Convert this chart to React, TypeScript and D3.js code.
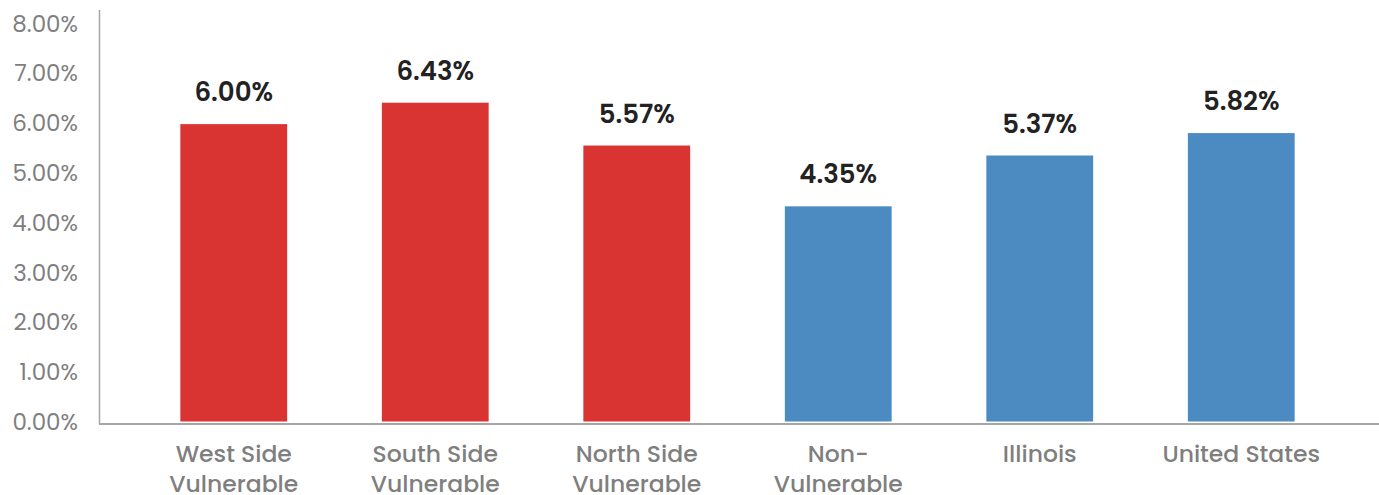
import React from "react";
import * as d3 from "d3";

const categories: string[][] = [
  ["West Side", "Vulnerable"],
  ["South Side", "Vulnerable"],
  ["North Side", "Vulnerable"],
  ["Non-", "Vulnerable"],
  ["Illinois"],
  ["United States"],
];
const values: number[] = [6.0, 6.43, 5.57, 4.35, 5.37, 5.82];
const barColors: string[] = ["#D93431", "#D93431", "#D93431", "#4B8BC2", "#4B8BC2", "#4B8BC2"];
const yTicks: number[] = [0, 1, 2, 3, 4, 5, 6, 7, 8];

const W = 1379;
const H = 495;
const font = "Poppins, 'Open Sans', 'Noto Sans', sans-serif";

export default function App() {
  const x = d3
    .scaleBand<number>()
    .domain(d3.range(values.length))
    .range([133, 1342])
    .paddingInner(0.47)
    .paddingOuter(0.235);
  const y = d3.scaleLinear().domain([0, 8]).range([423, 24.5]);
  const fmt = (v: number) => v.toFixed(2) + "%";

  return (
    <svg width={W} height={H} style={{ position: "absolute", left: 0, top: 0, background: "#fff" }}>
      {yTicks.map((t) => (
        <text
          key={t}
          x={78}
          y={y(t) - 1}
          dy="0.35em"
          textAnchor="end"
          fill="#7f7f7f"
          fontSize={23}
          fontFamily={font}
        >
          {fmt(t)}
        </text>
      ))}
      {values.map((v, i) => (
        <g key={i}>
          <rect
            x={x(i)!}
            y={y(v)}
            width={x.bandwidth()}
            height={y(0) - 1.5 - y(v)}
            fill={barColors[i]}
          />
          <text
            x={x(i)! + x.bandwidth() / 2}
            y={y(v) - 23}
            textAnchor="middle"
            fill="#222"
            fontSize={26}
            fontWeight={600}
            fontFamily={font}
          >
            {fmt(v)}
          </text>
          {categories[i].map((line, j) => (
            <text
              key={j}
              x={x(i)! + x.bandwidth() / 2}
              y={462 + j * 30}
              textAnchor="middle"
              fill="#7f7f7f"
              fontSize={23.5}
              fontWeight={500}
              fontFamily={font}
            >
              {line}
            </text>
          ))}
        </g>
      ))}
      <line x1={99.5} x2={99.5} y1={10} y2={424} stroke="#a6a6a6" strokeWidth={1.5} />
      <line x1={99} x2={W} y1={424} y2={424} stroke="#a6a6a6" strokeWidth={2} />
    </svg>
  );
}
